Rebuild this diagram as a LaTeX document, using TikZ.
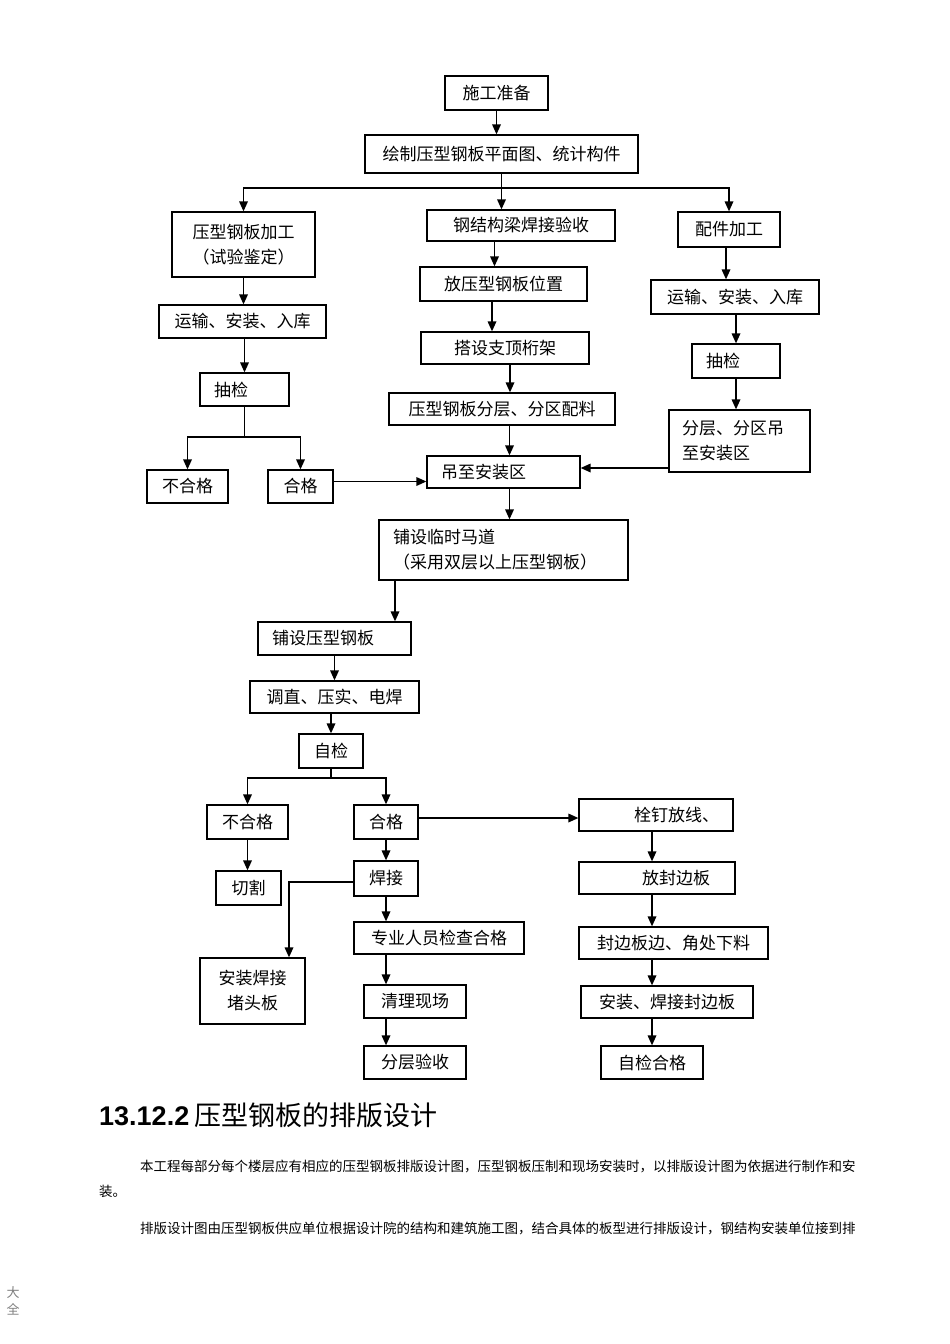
\documentclass[tikz,border=0pt]{standalone}
\usepackage{fontspec}
\setmainfont{Noto Sans CJK SC}
\newfontfamily\cjk{Noto Sans CJK SC}
\newfontfamily\headnum{Liberation Sans}
\usepackage{tikz}
\usetikzlibrary{arrows.meta}

\tikzset{
  box/.style={draw, line width=1.2pt, inner sep=0pt, align=center, font=\cjk\fontsize{17}{25}\selectfont},
  lbox/.style 2 args={box, align=left, inner xsep=#1, text width=#2},
  rbox/.style 2 args={box, align=right, inner xsep=#1, text width=#2},
  arr/.style={-{Triangle[length=10pt,width=8.5pt]}, line width=1.7pt},
  link/.style={line width=1.2pt},
  para/.style={anchor=base west, inner sep=0pt, font=\cjk\fontsize{13.5}{16}\selectfont}
}

\begin{document}
\begin{tikzpicture}[x=1pt, y=-1pt]
  \useasboundingbox[fill=white] (0,0) rectangle (950,1344);

  % top of the chart
  \node[box, minimum width=103pt, minimum height=34pt] (prep) at (496.5,93) {施工准备};
  \node[box, minimum width=273pt, minimum height=38pt] (plan) at (501.5,154) {绘制压型钢板平面图、统计构件};

  % three columns
  \node[box, minimum width=143pt, minimum height=65pt] (procL) at (243.5,244.5) {压型钢板加工\\（试验鉴定）};
  \node[box, minimum width=188pt, minimum height=31pt] (weld) at (521,225.5) {钢结构梁焊接验收};
  \node[box, minimum width=102pt, minimum height=35pt] (parts) at (729,229.5) {配件加工};

  \node[box, minimum width=167pt, minimum height=33pt] (transL) at (242.5,321.5) {运输、安装、入库};
  \node[box, minimum width=167pt, minimum height=34pt] (place) at (503.5,284) {放压型钢板位置};
  \node[box, minimum width=168pt, minimum height=34pt] (transR) at (735,297) {运输、安装、入库};

  \node[box, minimum width=168pt, minimum height=32pt] (truss) at (505,348) {搭设支顶桁架};
  \node[lbox={14pt}{61pt}, minimum height=33pt] (checkL) at (244.5,389.5) {抽检};
  \node[lbox={14pt}{60pt}, minimum height=34pt] (checkR) at (736,361) {抽检};

  \node[box, minimum width=226pt, minimum height=32pt] (batch) at (502,409) {压型钢板分层、分区配料};
  \node[lbox={13pt}{115pt}, minimum height=62pt] (layer) at (739.5,441) {分层、分区吊\\至安装区};

  \node[box, minimum width=81pt, minimum height=33pt] (failL) at (187.5,486.5) {不合格};
  \node[box, minimum width=65pt, minimum height=33pt] (passL) at (300.5,486.5) {合格};
  \node[lbox={14pt}{125pt}, minimum height=32pt] (hoist) at (503.5,472) {吊至安装区};

  % laying
  \node[lbox={14pt}{221pt}, minimum height=60pt] (walk) at (503.5,550) {铺设临时马道\\（采用双层以上压型钢板）};
  \node[lbox={14pt}{125pt}, minimum height=33pt] (layL) at (334.5,638.5) {铺设压型钢板};
  \node[box, minimum width=169pt, minimum height=32pt] (adjust) at (334.5,697) {调直、压实、电焊};
  \node[box, minimum width=64pt, minimum height=34pt] (self) at (331,751) {自检};

  \node[box, minimum width=81pt, minimum height=34pt] (failM) at (247.5,822) {不合格};
  \node[box, minimum width=64pt, minimum height=34pt] (passM) at (386,822) {合格};
  \node[box, minimum width=65pt, minimum height=34pt] (cut) at (248.5,888) {切割};
  \node[box, minimum width=64pt, minimum height=35pt] (weldM) at (386,878.5) {焊接};
  \node[box, minimum width=105pt, minimum height=66pt] (plug) at (252.5,991) {安装焊接\\堵头板};
  \node[box, minimum width=170pt, minimum height=32pt] (inspect) at (439,938) {专业人员检查合格};
  \node[box, minimum width=102pt, minimum height=33pt] (clean) at (415,1001.5) {清理现场};
  \node[box, minimum width=102pt, minimum height=33pt] (accept) at (415,1062.5) {分层验收};

  % edge plates
  \node[rbox={14pt}{126pt}, minimum height=32pt] (stud) at (656,815) {栓钉放线、};
  \node[rbox={25pt}{106pt}, minimum height=32pt] (edge) at (657,878) {放封边板};
  \node[box, minimum width=189pt, minimum height=32pt] (cutE) at (673.5,943) {封边板边、角处下料};
  \node[box, minimum width=172pt, minimum height=32pt] (weldE) at (667,1002) {安装、焊接封边板};
  \node[box, minimum width=102pt, minimum height=33pt] (okE) at (652,1062.5) {自检合格};

  \coordinate (split1) at (501.5,188);
  \coordinate (split2) at (244.5,437);
  \coordinate (split3) at (331,778);

  \draw[arr] (prep.south) -- (prep.south |- plan.north);
  \draw[link] (plan.south) -- (split1);
  \draw[arr] (split1) -| (procL.north);
  \draw[arr] (split1) -| (parts.north);
  \draw[arr] (split1) -- (split1 |- weld.north);

  \draw[arr] (procL) -- (procL.south |- transL.north);
  \draw[arr] (transL.south -| checkL.north) -- (checkL.north);
  \draw[link] (checkL.south) -- (split2);
  \draw[arr] (split2) -| (failL.north);
  \draw[arr] (split2) -| (passL.north);
  \draw[arr] ([yshift=5pt]passL.east) -- ([yshift=5pt]passL.east -| hoist.west);

  \draw[arr] ([xshift=-9pt]place.north |- weld.south) -- ([xshift=-9pt]place.north);
  \draw[arr] ([xshift=-13pt]truss.north |- place.south) -- ([xshift=-13pt]truss.north);
  \draw[arr] ([xshift=5pt]truss.south) -- ([xshift=5pt]truss.south |- batch.north);
  \draw[arr] ([xshift=6pt]hoist.north |- batch.south) -- ([xshift=6pt]hoist.north);

  \draw[arr] ([xshift=-3pt]parts.south) -- ([xshift=-3pt]parts.south |- transR.north);
  \draw[arr] (transR.south -| checkR.north) -- (checkR.north);
  \draw[arr] (checkR.south) -- (checkR.south |- layer.north);
  \draw[arr] ([yshift=-27pt]layer.west) -- ([yshift=-27pt]layer.west -| hoist.east);

  \draw[arr] ([xshift=6pt]hoist.south) -- ([xshift=6pt]hoist.south |- walk.north);
  \draw[arr] ([xshift=60.5pt]layL.north |- walk.south) -- ([xshift=60.5pt]layL.north);
  \draw[arr] (layL.south -| adjust.north) -- (adjust.north);
  \draw[arr] (adjust.south -| self.north) -- (self.north);
  \draw[link] (self.south) -- (split3);
  \draw[arr] (split3) -| (failM.north);
  \draw[arr] (split3) -| (passM.north);

  \draw[arr] (failM) -- (failM.south |- cut.north);
  \draw[arr] (passM) -- (weldM);
  \draw[arr] ([yshift=-3.5pt]weldM.west) -| ([xshift=36.5pt]plug.north);
  \draw[arr] (weldM.south) -- (weldM.south |- inspect.north);
  \draw[arr] (inspect.south -| weldM.south) -- (clean.north -| weldM.south);
  \draw[arr] (clean.south -| weldM.south) -- (accept.north -| weldM.south);

  \draw[arr] ([yshift=4pt]passM.east) -- ([yshift=4pt]passM.east -| stud.west);
  \draw[arr] (stud.south -| okE.north) -- (edge.north -| okE.north);
  \draw[arr] (edge.south -| okE.north) -- (cutE.north -| okE.north);
  \draw[arr] (cutE.south -| okE.north) -- (weldE.north -| okE.north);
  \draw[arr] (weldE.south -| okE.north) -- (okE.north);

  % text below the chart
  \node[anchor=base west, inner sep=0pt] (title) at (99,1125)
    {{\headnum\bfseries\fontsize{27}{30}\selectfont 13.12.2}\hspace{5pt}{\cjk\fontsize{27}{30}\selectfont 压型钢板的排版设计}};
  \node[para] (p1a) at (140,1171) {本工程每部分每个楼层应有相应的压型钢板排版设计图，压型钢板压制和现场安装时，以排版设计图为依据进行制作和安};
  \node[para] (p1b) at (99,1196) {装。};
  \node[para] (p2a) at (140,1233) {排版设计图由压型钢板供应单位根据设计院的结构和建筑施工图，结合具体的板型进行排版设计，钢结构安装单位接到排};
  \node[align=center, inner sep=0pt, text=gray, font=\cjk\fontsize{13}{17}\selectfont] (side) at (13,1301) {大\\全};
\end{tikzpicture}
\end{document}
